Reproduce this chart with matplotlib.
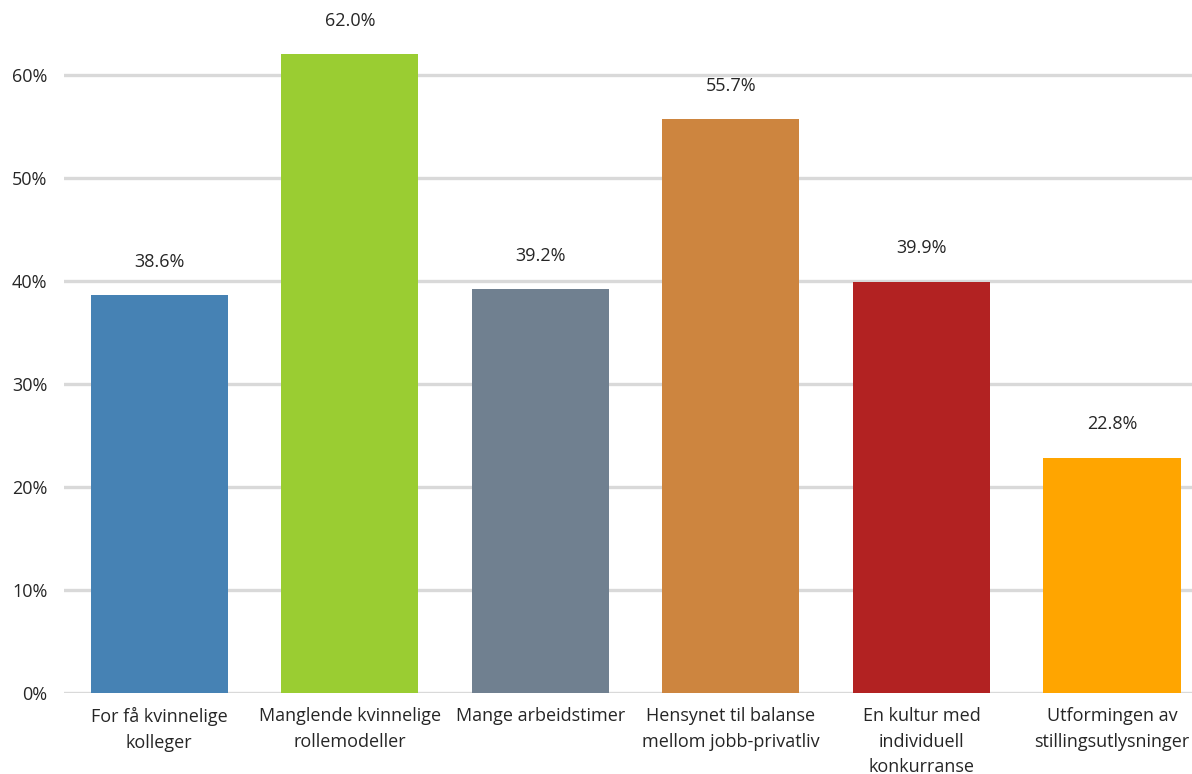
import matplotlib
matplotlib.use("Agg")
import matplotlib.pyplot as plt
from matplotlib.ticker import FuncFormatter, MultipleLocator

categories = [
    "For få kvinnelige\nkolleger",
    "Manglende kvinnelige\nrollemodeller",
    "Mange arbeidstimer",
    "Hensynet til balanse\nmellom jobb-privatliv",
    "En kultur med\nindividuell\nkonkurranse",
    "Utformingen av\nstillingsutlysninger",
]
values = [0.386, 0.620, 0.392, 0.557, 0.399, 0.228]
colors = ["#4682B4", "#9ACD32", "#708090", "#CD853F", "#B22222", "#FFA500"]

plt.rcParams["font.family"] = ["Open Sans", "DejaVu Sans"]

fig = plt.figure(figsize=(11.92, 7.74), dpi=100)
ax = fig.add_axes([64 / 1192, 81 / 774, 1128 / 1192, 693 / 774])

x = list(range(len(categories)))
ax.bar(x, values, width=0.72, color=colors, zorder=3)
for xi, v in zip(x, values):
    ax.text(xi, v + 0.024, f"{v * 100:.1f}%", ha="center", va="bottom",
            fontsize=13, color="#262626")

ax.set_xlim(-0.5, 5.42)
ax.set_ylim(0, 0.6728)
ax.yaxis.set_major_locator(MultipleLocator(0.1))
ax.yaxis.set_major_formatter(FuncFormatter(lambda y, _: "{:.0%}".format(y)))
ax.grid(axis="y", color="#D9D9D9", linewidth=2.4, zorder=0)
ax.set_axisbelow(True)
for s in ax.spines.values():
    s.set_visible(False)
ax.set_xticks(x)
ax.set_xticklabels(categories, fontsize=13, color="#262626", linespacing=1.55)
ax.tick_params(axis="both", length=0)
ax.tick_params(axis="y", labelsize=13, labelcolor="#262626", pad=12)
ax.tick_params(axis="x", pad=10)

fig.savefig("out.png", dpi=100)
